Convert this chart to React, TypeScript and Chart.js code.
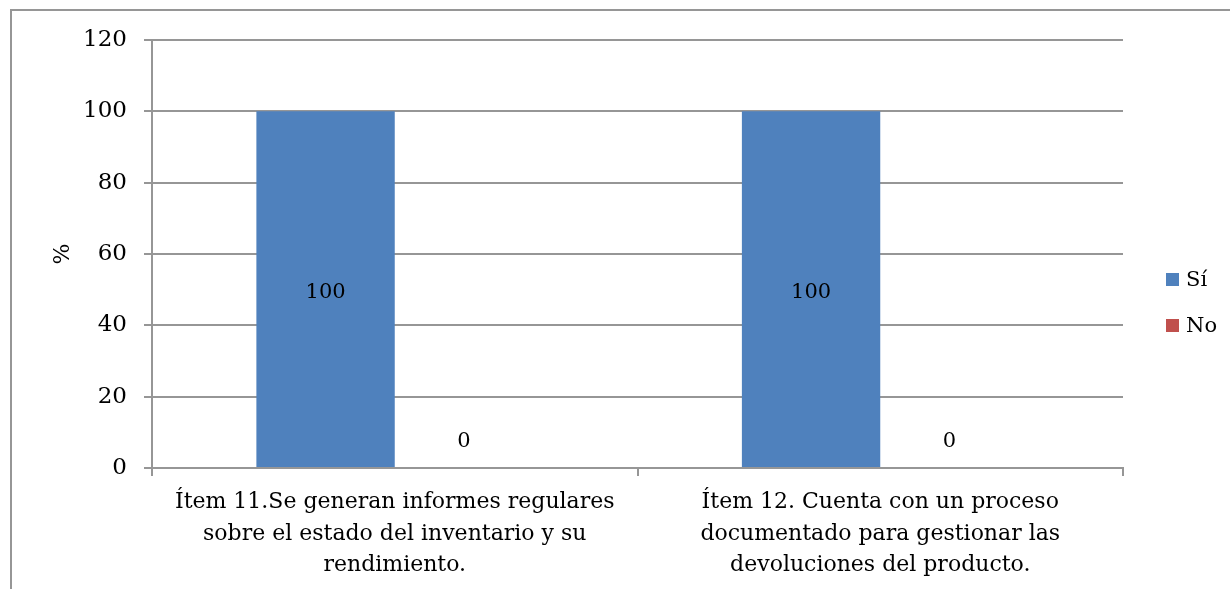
import React, { useEffect, useRef } from "react";
import { Chart, registerables } from "chart.js";

Chart.register(...registerables);

const categories: string[][] = [
  ["Ítem 11.Se generan informes regulares", "sobre el estado del inventario y su", "rendimiento."],
  ["Ítem 12. Cuenta con un proceso", "documentado para gestionar las", "devoluciones del producto."],
];
const seriesNames = ["Sí", "No"];
const siValues = [100, 100];
const noValues = [0, 0];
const seriesColors = ["#4F81BD", "#C0504D"];

const FONT = "'DejaVu Serif', 'Liberation Serif', serif";
const GRID = "#969696";

// Frame around the whole chart
const framePlugin = {
  id: "frame",
  beforeDraw(chart: any) {
    const { ctx } = chart;
    ctx.save();
    ctx.strokeStyle = GRID;
    ctx.lineWidth = 2;
    ctx.strokeRect(11, 10, chart.width + 20, chart.height + 20);
    ctx.restore();
  },
};

// Value labels: centred in the bar, zero values just above the base
const valueLabelPlugin = {
  id: "valueLabels",
  afterDatasetsDraw(chart: any) {
    const { ctx } = chart;
    ctx.save();
    ctx.fillStyle = "#000";
    ctx.font = `21px ${FONT}`;
    ctx.textAlign = "center";
    ctx.textBaseline = "middle";
    chart.data.datasets.forEach((ds: any, di: number) => {
      const meta = chart.getDatasetMeta(di);
      meta.data.forEach((bar: any, i: number) => {
        const v = ds.data[i];
        const y = v === 0 ? bar.base - 26 : (bar.y + bar.base) / 2 + 3;
        ctx.fillText(String(v), bar.x, y);
      });
    });
    ctx.restore();
  },
};

// Legend on the right side
const legendPlugin = {
  id: "sideLegend",
  afterDraw(chart: any) {
    const { ctx } = chart;
    const x = 1166;
    const rows = [280, 326];
    ctx.save();
    ctx.font = `21px ${FONT}`;
    ctx.textBaseline = "middle";
    ctx.textAlign = "left";
    chart.data.datasets.forEach((ds: any, i: number) => {
      const y = rows[i];
      ctx.fillStyle = ds.backgroundColor;
      ctx.fillRect(x, y - 7, 13, 13);
      ctx.fillStyle = "#000";
      ctx.fillText(ds.label, x + 20, y + 1);
    });
    ctx.restore();
  },
};

export default function App() {
  const ref = useRef<HTMLCanvasElement>(null);

  useEffect(() => {
    if (!ref.current) return;
    const chart = new Chart(ref.current, {
      type: "bar",
      data: {
        labels: categories,
        datasets: [
          { label: seriesNames[0], data: siValues, backgroundColor: seriesColors[0] },
          { label: seriesNames[1], data: noValues, backgroundColor: seriesColors[1] },
        ],
      },
      options: {
        responsive: false,
        animation: false,
        layout: { padding: { top: 40, right: 107, left: 0, bottom: 0 } },
        datasets: { bar: { categoryPercentage: 0.57, barPercentage: 1 } },
        plugins: { legend: { display: false }, tooltip: { enabled: false } },
        scales: {
          x: {
            offset: true,
            grid: {
              offset: true,
              drawOnChartArea: false,
              drawTicks: true,
              tickLength: 8,
              color: GRID,
              lineWidth: 2,
            },
            border: { color: GRID, width: 2 },
            ticks: {
              color: "#000",
              font: { family: FONT, size: 22, lineHeight: 1.45 },
              padding: 10,
              maxRotation: 0,
              autoSkip: false,
            },
            afterFit(scale: any) {
              scale.height = 589 - 468;
            },
          },
          y: {
            min: 0,
            max: 120,
            ticks: {
              stepSize: 20,
              color: "#000",
              font: { family: FONT, size: 23 },
              padding: 17,
            },
            grid: { color: GRID, lineWidth: 2, tickLength: 8 },
            border: { color: GRID, width: 2 },
            title: {
              display: true,
              text: "%",
              color: "#000",
              font: { family: FONT, size: 22 },
              padding: { top: 50, bottom: 0 },
            },
            afterFit(scale: any) {
              scale.width = 152;
            },
          },
        },
      },
      plugins: [framePlugin, valueLabelPlugin, legendPlugin],
    });
    return () => chart.destroy();
  }, []);

  return (
    <div style={{ position: "fixed", left: 0, top: 0, width: 1230, height: 589, background: "#fff" }}>
      <canvas ref={ref} width={1230} height={589} />
    </div>
  );
}
